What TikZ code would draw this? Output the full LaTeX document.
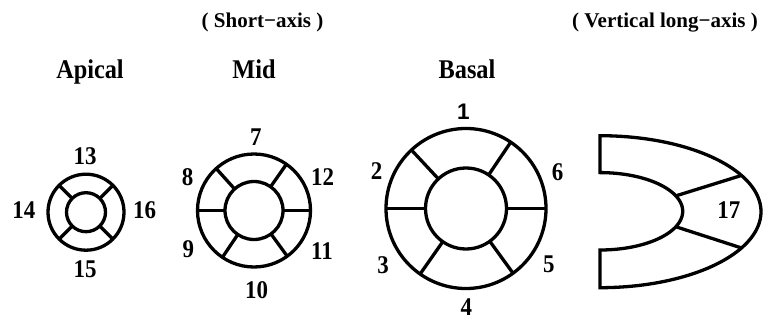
\documentclass[tikz,border=0pt]{standalone}
\usepackage{fontspec}
\setmainfont{Liberation Serif}
\newfontfamily\condserif{Liberation Serif}[FakeStretch=0.9]
\newfontfamily\numsans{Liberation Sans}
\usetikzlibrary{calc}

\begin{document}
\begin{tikzpicture}[x=1pt,y=-1pt,
  ring/.style={line width=3.3pt},
  lbl/.style={font=\condserif\bfseries\fontsize{25.5}{30}\selectfont, inner sep=0pt},
  ttl/.style={font=\condserif\bfseries\fontsize{27}{32}\selectfont, inner sep=0pt, anchor=base},
  hdr/.style={font=\bfseries\fontsize{21}{25}\selectfont, inner sep=0pt, anchor=base}]
\useasboundingbox (0,0) rectangle (763,321);

% headings
\node[hdr] (hshort) at (262.5,27.5) {( Short−axis )};
\node[hdr] (hlong)  at (665,27.5) {( Vertical long−axis )};
\node[ttl] (tap)  at (90,78.3)  {Apical};
\node[ttl] (tmid) at (254,78.3) {Mid};
\node[ttl] (tbas) at (467,78.3) {Basal};

% apical ring (4 segments)
\coordinate (ap) at (86,212.2);
\draw[ring] (ap) circle[radius=38pt] (ap) circle[radius=19.5pt];
\foreach \a in {45,135,225,315}
  \draw[ring] ($(ap)+(\a:19.5)$) -- ($(ap)+(\a:38)$);
\node[lbl] (s13) at (85,155.8) {13};
\node[lbl] (s14) at (23.8,210.5) {14};
\node[lbl] (s16) at (144.7,210.5) {16};
\node[lbl] (s15) at (85,269.5) {15};

% mid ring (6 segments)
\coordinate (md) at (254,210.5);
\draw[ring] (md) circle[radius=56.5pt] (md) circle[radius=29pt];
\foreach \a in {0,55,132,180,-124,-54}
  \draw[ring] ($(md)+(-\a:29)$) -- ($(md)+(-\a:56.5)$);
\node[lbl] (s7)  at (255.8,137) {7};
\node[lbl] (s8)  at (187.5,176.7) {8};
\node[lbl] (s12) at (322.5,176.7) {12};
\node[lbl] (s9)  at (188.3,249.2) {9};
\node[lbl] (s11) at (322,251.3) {11};
\node[lbl] (s10) at (256.7,290) {10};

% basal ring (6 segments)
\coordinate (bs) at (466,208.5);
\draw[ring] (bs) circle[radius=80pt] (bs) circle[radius=40.5pt];
\foreach \a in {0,56,133,180,-125,-54}
  \draw[ring] ($(bs)+(-\a:40.5)$) -- ($(bs)+(-\a:80)$);
\node[font=\numsans\bfseries\fontsize{22.5}{26}\selectfont, inner sep=0pt] (s1) at (463.3,111.3) {1};
\node[lbl] (s2) at (376.7,171.3) {2};
\node[lbl] (s6) at (557.5,172.5) {6};
\node[lbl] (s3) at (383,264.7) {3};
\node[lbl] (s5) at (548.8,263.8) {5};
\node[lbl] (s4) at (466.3,307.5) {4};

% vertical long-axis view (apex segment 17)
\draw[ring]
  plot[domain=-90:90, samples=91] ({600+161*cos(\x)},{211.7+76*sin(\x)})
  -- plot[domain=90:-90, samples=91] ({600+82.7*cos(\x)},{211.3+38.7*sin(\x)})
  -- cycle;
\coordinate (ia) at ({600+82.7*cos(-23.5)},{211.3+38.7*sin(-23.5)});
\coordinate (oa) at ({600+161*cos(-28.5)},{211.7+76*sin(-28.5)});
\coordinate (ib) at ({600+82.7*cos(23.5)},{211.3+38.7*sin(23.5)});
\coordinate (ob) at ({600+161*cos(28.5)},{211.7+76*sin(28.5)});
\draw[ring] (ia) -- (oa) (ib) -- (ob);
\node[lbl] (s17) at (728.8,210.2) {17};
\end{tikzpicture}
\end{document}
